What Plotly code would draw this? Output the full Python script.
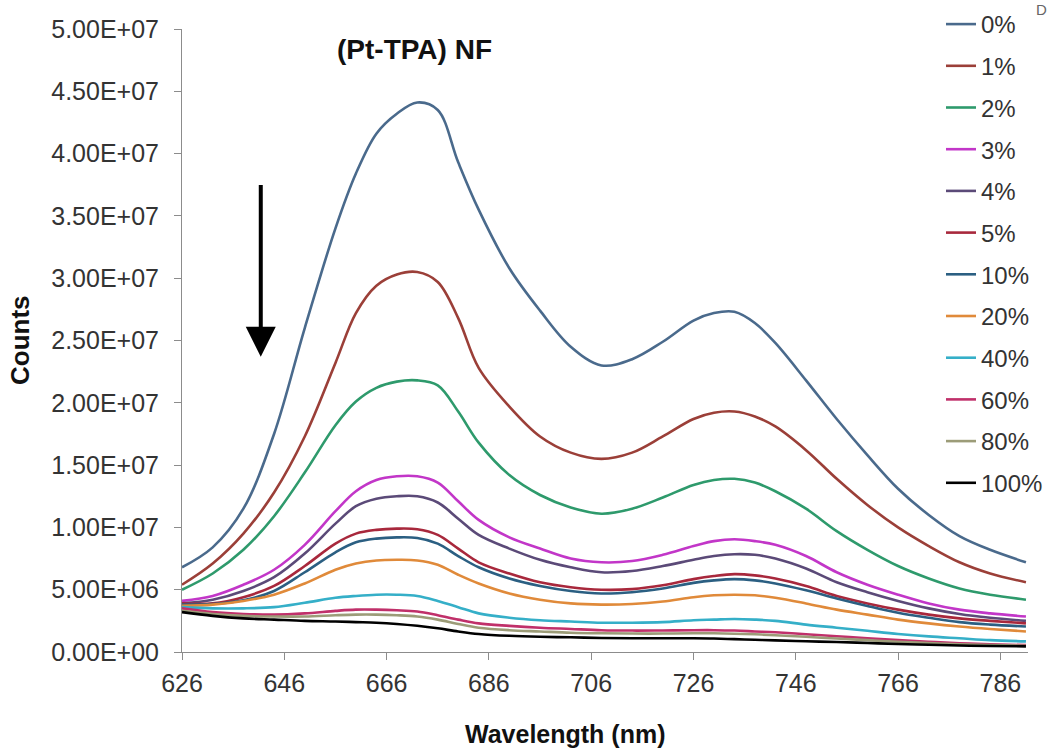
import plotly.graph_objects as go

# ---------------- data ----------------
wavelength = [626, 632, 638, 644, 650, 656, 660, 664, 668, 672, 676, 680, 684, 690, 696,
              702, 708, 714, 720, 726, 730, 734, 738, 742, 748, 754, 760, 766, 772, 778, 784, 791]

# counts in units of 1e6
c0 = [6.8, 8.4, 11.5, 17.5, 26.0, 34.0, 38.4, 41.6, 43.2, 44.1, 43.5, 39.3, 35.5, 30.8, 27.4,
      24.5, 23.0, 23.5, 24.9, 26.6, 27.2, 27.3, 26.4, 24.8, 21.8, 18.7, 15.8, 13.1, 11.0, 9.3, 8.2, 7.2]
c1 = [5.4, 7.1, 9.5, 12.8, 17.3, 23.2, 27.2, 29.4, 30.3, 30.5, 29.7, 26.8, 22.8, 19.7, 17.3,
      16.0, 15.5, 16.0, 17.3, 18.7, 19.2, 19.3, 18.9, 18.1, 16.2, 13.9, 11.8, 10.0, 8.5, 7.2, 6.3, 5.6]
c2 = [5.0, 6.3, 8.2, 10.9, 14.4, 18.2, 20.1, 21.2, 21.7, 21.8, 21.4, 19.3, 16.8, 14.2, 12.6,
      11.6, 11.1, 11.5, 12.4, 13.4, 13.8, 13.9, 13.6, 12.9, 11.5, 9.7, 8.2, 6.9, 5.9, 5.1, 4.6, 4.2]
c3 = [4.1, 4.5, 5.4, 6.6, 8.6, 11.3, 12.9, 13.8, 14.1, 14.1, 13.6, 12.1, 10.6, 9.2, 8.3,
      7.5, 7.2, 7.3, 7.8, 8.5, 8.9, 9.05, 8.9, 8.6, 7.7, 6.4, 5.4, 4.6, 3.9, 3.4, 3.1, 2.85]
c4 = [3.9, 4.2, 4.9, 6.0, 7.9, 10.3, 11.7, 12.3, 12.5, 12.5, 12.0, 10.7, 9.4, 8.3, 7.4,
      6.8, 6.4, 6.5, 6.9, 7.4, 7.7, 7.85, 7.8, 7.5, 6.7, 5.6, 4.8, 4.1, 3.5, 3.05, 2.75, 2.5]
c5 = [3.9, 3.9, 4.4, 5.3, 6.9, 8.7, 9.5, 9.8, 9.9, 9.85, 9.4, 8.3, 7.2, 6.3, 5.6,
      5.2, 5.0, 5.05, 5.35, 5.85, 6.1, 6.25, 6.15, 5.9, 5.3, 4.5, 3.9, 3.4, 3.0, 2.7, 2.5, 2.3]
c10 = [3.8, 3.85, 4.15, 4.9, 6.4, 8.0, 8.8, 9.1, 9.2, 9.15, 8.7, 7.7, 6.8, 5.9, 5.3,
       4.9, 4.7, 4.8, 5.1, 5.55, 5.75, 5.85, 5.75, 5.5, 4.95, 4.3, 3.7, 3.15, 2.75, 2.4, 2.2, 2.05]
c20 = [3.7, 3.8, 4.1, 4.6, 5.5, 6.6, 7.1, 7.35, 7.4, 7.35, 7.0, 6.2, 5.5, 4.7, 4.2,
       3.9, 3.8, 3.85, 4.05, 4.4, 4.55, 4.6, 4.55, 4.35, 3.9, 3.4, 3.0, 2.6, 2.3, 2.05, 1.85, 1.65]
c40 = [3.6, 3.5, 3.5, 3.6, 3.95, 4.35, 4.5, 4.6, 4.6, 4.5, 4.1, 3.6, 3.1, 2.75, 2.55,
       2.45, 2.35, 2.35, 2.4, 2.55, 2.6, 2.65, 2.6, 2.5, 2.2, 1.95, 1.7, 1.45, 1.25, 1.1, 0.95, 0.85]
c60 = [3.5, 3.2, 3.05, 3.0, 3.1, 3.3, 3.4, 3.4, 3.35, 3.25, 2.95, 2.6, 2.3, 2.1, 1.95,
       1.85, 1.75, 1.72, 1.73, 1.75, 1.75, 1.72, 1.65, 1.58, 1.43, 1.27, 1.1, 0.95, 0.82, 0.7, 0.62, 0.55]
c80 = [3.3, 3.05, 2.9, 2.85, 2.85, 2.95, 3.0, 3.0, 2.95, 2.85, 2.6, 2.25, 1.95, 1.75, 1.65,
       1.55, 1.5, 1.48, 1.48, 1.5, 1.5, 1.47, 1.42, 1.35, 1.22, 1.08, 0.95, 0.82, 0.72, 0.62, 0.55, 0.5]
c100 = [3.2, 2.9, 2.7, 2.6, 2.5, 2.45, 2.4, 2.35, 2.25, 2.1, 1.9, 1.65, 1.45, 1.3, 1.22,
        1.18, 1.12, 1.1, 1.1, 1.1, 1.08, 1.03, 0.98, 0.93, 0.86, 0.8, 0.72, 0.64, 0.58, 0.52, 0.48, 0.45]

series_names = ["0%", "1%", "2%", "3%", "4%", "5%", "10%", "20%", "40%", "60%", "80%", "100%"]
series_values = [c0, c1, c2, c3, c4, c5, c10, c20, c40, c60, c80, c100]
series_colors = ["#4A6A8C", "#9B3F38", "#2E9A6C", "#C236C8", "#5B4A78", "#A8283C",
                 "#2B5F82", "#E08A3A", "#35AFC8", "#C0306A", "#9C9C78", "#000000"]

x_ticks = [626, 646, 666, 686, 706, 726, 746, 766, 786]
y_ticks = [0, 5e6, 1e7, 1.5e7, 2e7, 2.5e7, 3e7, 3.5e7, 4e7, 4.5e7, 5e7]
y_tick_labels = ["0.00E+00", "5.00E+06", "1.00E+07", "1.50E+07", "2.00E+07", "2.50E+07",
                 "3.00E+07", "3.50E+07", "4.00E+07", "4.50E+07", "5.00E+07"]

# ---------------- figure ----------------
W, H = 1049, 752
L, R, T, B = 182, 21, 29, 100
FONT = "Liberation Sans, Arial, sans-serif"
TICK_SIZE = 25

fig = go.Figure()
for name, vals, col in zip(series_names, series_values, series_colors):
    fig.add_trace(go.Scatter(
        x=wavelength, y=[v * 1e6 for v in vals], name=name, legendgroup=name,
        mode="lines", line=dict(color=col, width=2.6, shape="spline", smoothing=1.0),
    ))

def px_x(p):
    return (p - L) / (W - L - R)

def px_y(p):
    return (H - B - p) / (H - T - B)

fig.update_layout(
    width=W, height=H,
    margin=dict(l=L, r=R, t=T, b=B, autoexpand=False),
    paper_bgcolor="white", plot_bgcolor="white",
    font=dict(family=FONT, size=TICK_SIZE, color="#333333"),
    showlegend=True,
    legend=dict(
        x=px_x(941), y=px_y(2), xanchor="left", yanchor="top",
        bgcolor="rgba(0,0,0,0)", borderwidth=0,
        font=dict(family=FONT, size=24, color="#333333"),
        tracegroupgap=7.5, maxheight=700,
    ),
    xaxis=dict(
        range=[626, 791.4], tickvals=x_ticks, ticktext=[str(v) for v in x_ticks],
        showline=True, linecolor="#8c8c8c", linewidth=1,
        ticks="outside", ticklen=7, tickcolor="#8c8c8c",
        showgrid=False, zeroline=False, ticklabelstandoff=2,
        tickfont=dict(family=FONT, size=TICK_SIZE, color="#333333"),
    ),
    yaxis=dict(
        range=[0, 5e7], tickvals=y_ticks, ticktext=y_tick_labels,
        showline=True, linecolor="#8c8c8c", linewidth=1,
        ticks="outside", ticklen=7, tickcolor="#8c8c8c",
        showgrid=False, zeroline=False, ticklabelstandoff=10,
        tickfont=dict(family=FONT, size=TICK_SIZE, color="#333333"),
    ),
)

annotations = [
    dict(text="(Pt-TPA) NF", xref="paper", yref="paper", x=px_x(414), y=px_y(50),
         xanchor="center", yanchor="middle", showarrow=False,
         font=dict(family=FONT, size=28, color="#111111", weight="bold")),
    dict(text="Counts", xref="paper", yref="paper", x=px_x(20), y=px_y(340),
         xanchor="center", yanchor="middle", showarrow=False, textangle=-90,
         font=dict(family=FONT, size=26, color="#111111", weight="bold")),
    dict(text="Wavelength (nm)", xref="paper", yref="paper", x=px_x(565), y=px_y(734),
         xanchor="center", yanchor="middle", showarrow=False,
         font=dict(family=FONT, size=25, color="#111111", weight="bold")),
    dict(text="D", xref="paper", yref="paper", x=px_x(1041), y=px_y(9),
         xanchor="center", yanchor="middle", showarrow=False,
         font=dict(family=FONT, size=15, color="#666666")),
    dict(text="", x=641.4, y=2.37e7, ax=641.4, ay=3.76e7, axref="x", ayref="y",
         xref="x", yref="y", showarrow=True, arrowhead=2, arrowwidth=4, arrowsize=1.5,
         arrowcolor="#000000"),
]
fig.update_layout(annotations=annotations)

fig.write_html("out.html")
